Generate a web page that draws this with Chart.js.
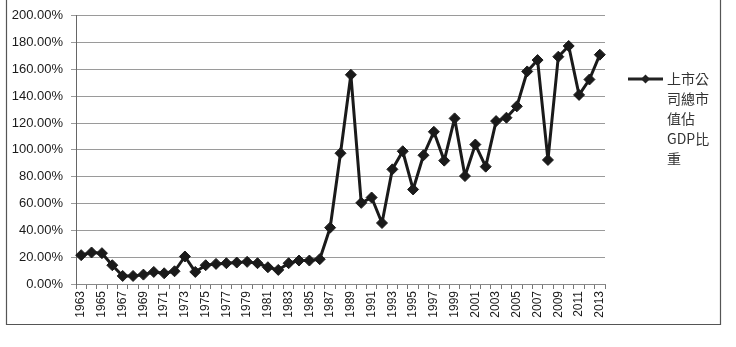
<!DOCTYPE html>
<html>
<head>
<meta charset="utf-8">
<script src="https://cdn.jsdelivr.net/npm/chart.js@4.4.0/dist/chart.umd.min.js"></script>
<style>
html,body{margin:0;padding:0;background:#ffffff;}
#wrap{width:736px;height:347px;position:relative;}
</style>
</head>
<body>
<div id="wrap"><canvas id="c" width="736" height="347"></canvas></div>
<script>
const years = ['1963','1964','1965','1966','1967','1968','1969','1970','1971','1972',
  '1973','1974','1975','1976','1977','1978','1979','1980','1981','1982',
  '1983','1984','1985','1986','1987','1988','1989','1990','1991','1992',
  '1993','1994','1995','1996','1997','1998','1999','2000','2001','2002',
  '2003','2004','2005','2006','2007','2008','2009','2010','2011','2012','2013'];
const marketCapToGDP = [21.5,23.5,23,14,6,6,7,9,8,9.5,
  20.5,9,14,15,15.5,16,16.5,15.5,12.5,10.5,
  15.5,17.5,17.5,18.5,42,97.5,156,60.5,64.5,45.5,
  85.5,99,70.5,96,113.5,92,123.5,80.5,104,87.5,
  121.5,124,132.5,158.5,167,92.5,169.5,177.5,141,152.5,171];
const yTickValues = [0,20,40,60,80,100,120,140,160,180,200];
const legendLines = ['上市公','司總市','值佔','GDP比','重'];

const legendPlugin = {
  id: 'sideLegend',
  afterDraw(chart) {
    const ctx = chart.ctx;
    ctx.save();
    // frame
    ctx.strokeStyle = '#555555';
    ctx.lineWidth = 1.2;
    ctx.beginPath();
    ctx.moveTo(6.5, 0);
    ctx.lineTo(6.5, 324.5);
    ctx.lineTo(720.5, 324.5);
    ctx.lineTo(720.5, 0);
    ctx.stroke();
    // legend symbol
    const ly = 79;
    ctx.strokeStyle = '#222222';
    ctx.lineWidth = 3;
    ctx.beginPath();
    ctx.moveTo(628, ly);
    ctx.lineTo(663, ly);
    ctx.stroke();
    ctx.fillStyle = '#222222';
    ctx.beginPath();
    ctx.moveTo(645.5, ly - 4.5);
    ctx.lineTo(650, ly);
    ctx.lineTo(645.5, ly + 4.5);
    ctx.lineTo(641, ly);
    ctx.closePath();
    ctx.fill();
    // legend text
    ctx.fillStyle = '#333333';
    ctx.font = '14px "Noto Sans CJK TC", "Noto Sans", sans-serif';
    ctx.textAlign = 'left';
    ctx.textBaseline = 'middle';
    legendLines.forEach((t, i) => ctx.fillText(t, 667, ly + i * 19.8));
    ctx.restore();
  }
};

new Chart(document.getElementById('c'), {
  type: 'line',
  data: {
    labels: years,
    datasets: [{
      label: legendLines.join(''),
      data: marketCapToGDP,
      borderColor: '#1a1a1a',
      backgroundColor: '#1a1a1a',
      borderWidth: 3,
      borderJoinStyle: 'round',
      borderCapStyle: 'round',
      pointStyle: 'rectRot',
      pointRadius: 5.5,
      pointHoverRadius: 5.5,
      pointBorderWidth: 1,
      tension: 0,
      fill: false
    }]
  },
  options: {
    responsive: false,
    animation: false,
    layout: { padding: { left: 0, right: 131, top: 12, bottom: 0 } },
    plugins: { legend: { display: false }, tooltip: { enabled: false } },
    scales: {
      x: {
        type: 'category',
        offset: true,
        afterFit(scale) { scale.height = 63; },
        grid: { display: true, drawOnChartArea: false, offset: true, tickLength: 5, color: '#777777' },
        border: { display: true, color: '#888888', width: 1 },
        ticks: {
          autoSkip: false,
          minRotation: 90,
          maxRotation: 90,
          padding: 2,
          color: '#1a1a1a',
          font: { family: '"Liberation Sans", Arial, sans-serif', size: 12 },
          callback(v, i) { return i % 2 === 0 ? years[i] : ''; }
        }
      },
      y: {
        min: 0,
        max: 200,
        afterFit(scale) { scale.width = 76; },
        afterBuildTicks(scale) { scale.ticks = yTickValues.map(v => ({ value: v })); },
        grid: { color: '#9a9a9a', lineWidth: 1, tickLength: 5 },
        border: { display: true, color: '#666666', width: 1 },
        ticks: {
          padding: 8,
          color: '#1a1a1a',
          font: { family: '"Liberation Sans", Arial, sans-serif', size: 13 },
          callback(v) { return v.toFixed(2) + '%'; }
        }
      }
    }
  },
  plugins: [legendPlugin]
});
</script>
</body>
</html>
